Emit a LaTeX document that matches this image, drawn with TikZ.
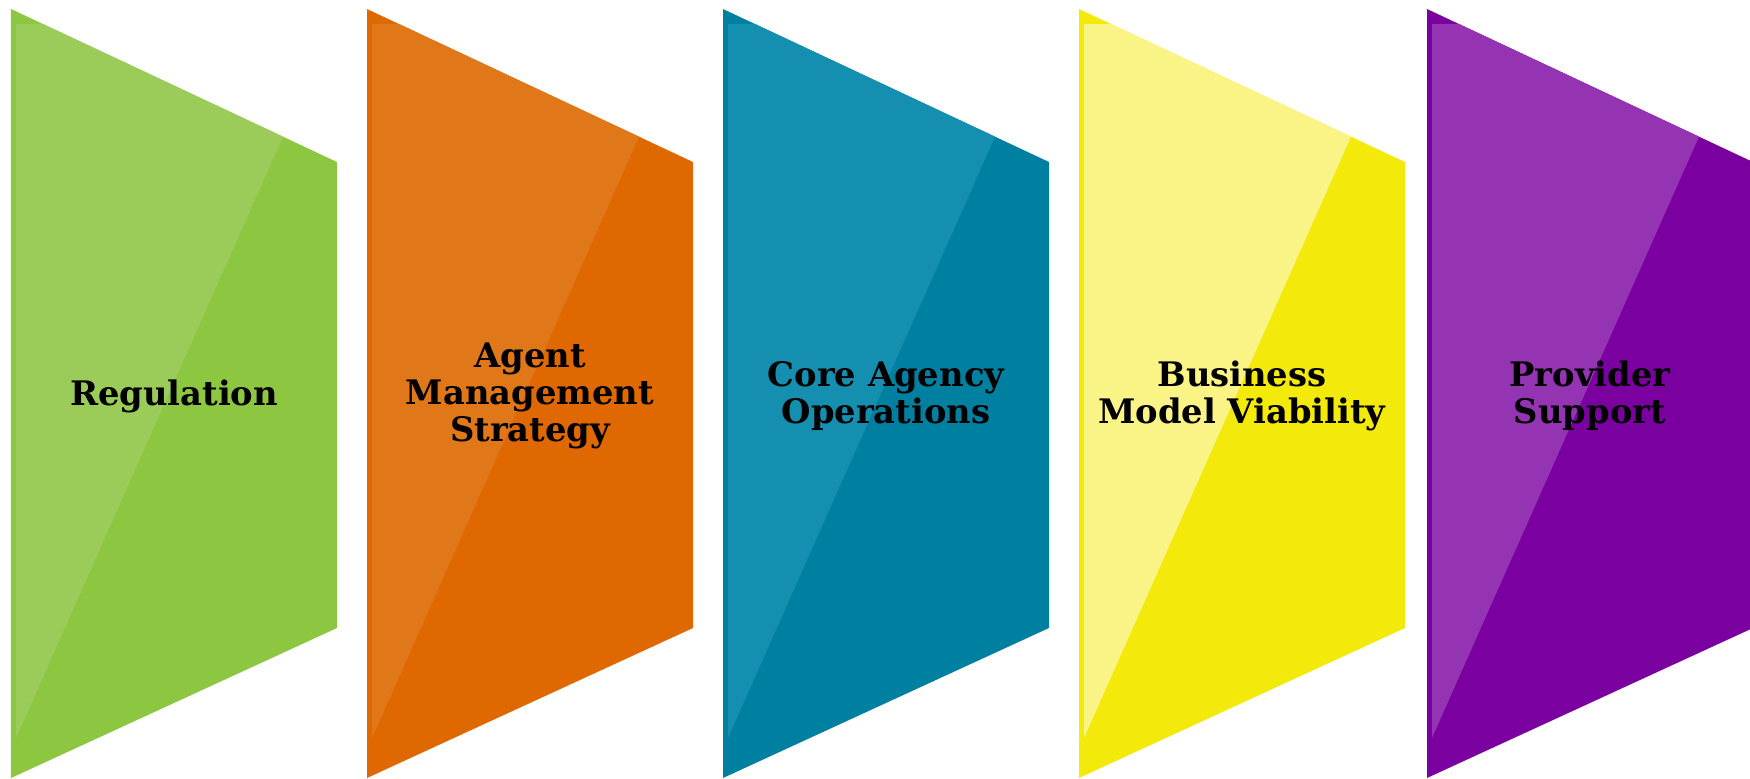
\documentclass[tikz,border=0pt]{standalone}
\usepackage{fontspec}
\setmainfont{DejaVu Serif}

\definecolor{greenA}{RGB}{141,198,65}
\definecolor{greenB}{RGB}{155,204,90}
\definecolor{orangeA}{RGB}{223,105,0}
\definecolor{orangeB}{RGB}{224,120,26}
\definecolor{tealA}{RGB}{0,128,160}
\definecolor{tealB}{RGB}{20,143,176}
\definecolor{yellowA}{RGB}{243,233,10}
\definecolor{yellowB}{RGB}{250,244,135}
\definecolor{purpleA}{RGB}{122,0,160}
\definecolor{purpleB}{RGB}{148,52,178}

\tikzset{
  panel/.style={font=\bfseries\fontsize{9.6}{10.6}\selectfont, align=center, text=black}
}

\begin{document}
\begin{tikzpicture}[x=0.01cm,y=-0.01cm]
	\useasboundingbox (0,0) rectangle (1750,778);
	\clip (0,0) rectangle (1750,778);
	% panels: base shape, then the lighter sheen on the left
	\foreach \x/\base/\lite in {11/greenA/greenB, 367/orangeA/orangeB,
	    723/tealA/tealB, 1079/yellowA/yellowB, 1427/purpleA/purpleB}{
	  \fill[\base] (\x,9) -- ++(326,153) -- ++(0,466) -- (\x,778) -- cycle;
	  \fill[\lite] (\x+5,24) -- (\x+32,24) -- (\x+272,136.7) -- (\x+5,738) -- cycle;
	}
	\node[panel] (P1) at (174,396) {Regulation};
	\node[panel] (P2) at (530,396) {Agent\\Management\\Strategy};
	\node[panel] (P3) at (886,396) {Core Agency\\Operations};
	\node[panel] (P4) at (1242,396) {Business\\Model Viability};
	\node[panel] (P5) at (1590,396) {Provider\\Support};
\end{tikzpicture}
\end{document}
